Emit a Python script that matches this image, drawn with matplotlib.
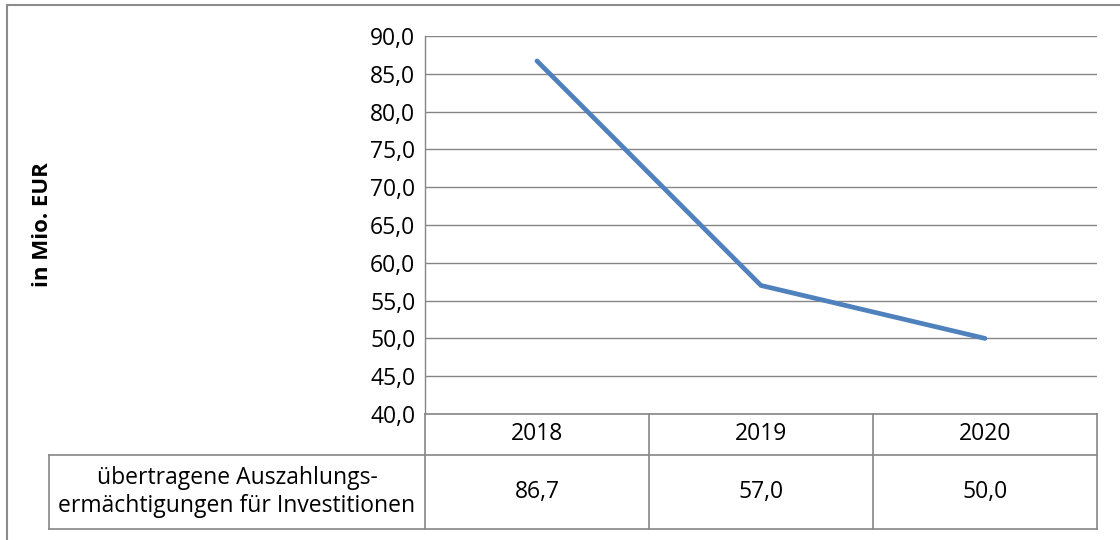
import matplotlib.pyplot as plt
from matplotlib.patches import Rectangle
from matplotlib.ticker import FuncFormatter

# data
years = ['2018', '2019', '2020']
values = [86.7, 57.0, 50.0]
series_label = 'übertragene Auszahlungs-\nermächtigungen für Investitionen'
y_label = 'in Mio. EUR'

W, H = 1120, 540
GRID = '#868686'
LINE = '#4F81BD'
FS = 16.5
plt.rcParams['font.family'] = ['Open Sans', 'DejaVu Sans']


def fx(px):
    return px / W


def fy(py):
    return 1 - py / H


def de(v, _=None):
    return '{:.1f}'.format(v).replace('.', ',')


fig = plt.figure(figsize=(W / 100, H / 100), dpi=100)

# outer chart frame (runs off the right and bottom edge)
fig.patches.append(Rectangle((fx(7), fy(560)), fx(1140), 555 / H, transform=fig.transFigure,
                             fill=False, edgecolor='#8c8c8c', lw=1.5))

left, top, right, bottom = 425, 36, 1097, 414
ax = fig.add_axes([fx(left), fy(bottom), fx(right - left), (bottom - top) / H])

x = list(range(len(years)))
ax.plot(x, values, color=LINE, lw=3.4, solid_capstyle='round', solid_joinstyle='round', zorder=3)

ax.set_xlim(-0.5, len(years) - 0.5)
ax.set_ylim(40, 90)
ax.set_yticks([40 + 5 * i for i in range(11)])
ax.yaxis.set_major_formatter(FuncFormatter(de))
ax.tick_params(axis='y', length=0, pad=7, labelsize=FS)
ax.set_xticks([])
ax.grid(axis='y', color=GRID, lw=1.0)
for s in ['top', 'right', 'bottom']:
    ax.spines[s].set_visible(False)
ax.spines['left'].set_color(GRID)
ax.spines['left'].set_linewidth(1.0)

fig.text(fx(43), fy(225), y_label, rotation=90, ha='center', va='center',
         fontsize=FS - 0.5, fontweight='bold')

# data table below the plot, x in data units, y in axes units
tr = ax.get_xaxis_transform()
ph = bottom - top
r1 = -(455 - bottom) / ph
r2 = -(529 - bottom) / ph
xl = -0.5 - (left - 49) / (right - left) * len(years)
kw = dict(color=GRID, lw=1.2, transform=tr, clip_on=False)
n = len(years)
ax.plot([-0.5, n - 0.5], [0, 0], **kw)
ax.plot([xl, n - 0.5], [r1, r1], **kw)
ax.plot([xl, n - 0.5], [r2, r2], **kw)
ax.plot([xl, xl], [r1, r2], **kw)
for i in range(n + 1):
    ax.plot([i - 0.5, i - 0.5], [0, r2], **kw)

for i, (yr, v) in enumerate(zip(years, values)):
    ax.text(i, r1 / 2, yr, transform=tr, ha='center', va='center', fontsize=FS)
    ax.text(i, (r1 + r2) / 2, de(v), transform=tr, ha='center', va='center', fontsize=FS)
ax.text((xl - 0.5) / 2, (r1 + r2) / 2, series_label, transform=tr, ha='center', va='center',
        fontsize=FS, linespacing=1.25)

fig.savefig('out.png', dpi=100)
